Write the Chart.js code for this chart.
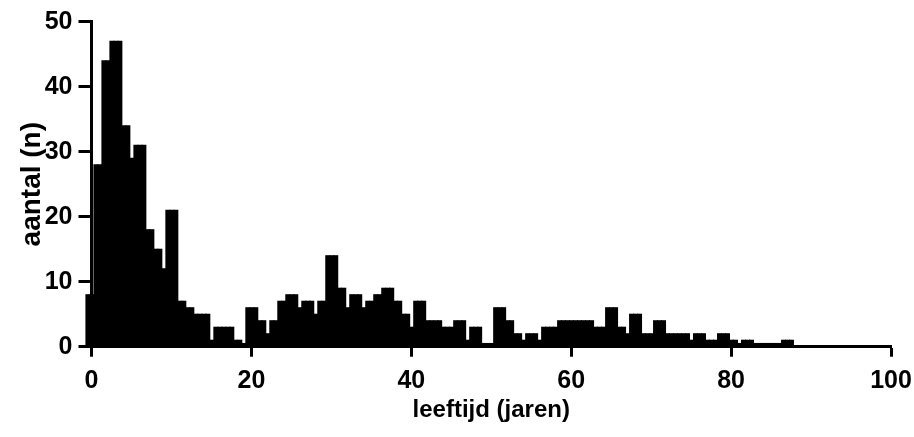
<!DOCTYPE html>
<html>
<head>
<meta charset="utf-8">
<script src="https://cdn.jsdelivr.net/npm/chart.js@4.4.1/dist/chart.umd.min.js"></script>
<style>
  html, body { margin: 0; padding: 0; background: #fff; }
  #wrap { width: 914px; height: 437px; }
</style>
</head>
<body>
<div id="wrap"><canvas id="chart" width="914" height="437"></canvas></div>
<script>
// histogram in halfjaar-bins, eerste bin begint bij -0.7 jaar
const binStart = -0.7
const binWidth = 0.5
const counts = [
    8, 8, 28, 28, 44, 44, 47, 47, 47, 34,
    34, 29, 31, 31, 31, 18, 18, 15, 15, 12,
    21, 21, 21, 7, 7, 6, 6, 5, 5, 5,
    5, 1, 3, 3, 3, 3, 3, 1, 1, 0.5,
    6, 6, 6, 4, 4, 2, 4, 4, 7, 7,
    8, 8, 8, 6, 7, 7, 7, 5, 7, 7,
    14, 14, 14, 9, 9, 6, 8, 8, 8, 6,
    7, 7, 8, 8, 9, 9, 9, 7, 7, 5,
    5, 3, 7, 7, 7, 4, 4, 4, 4, 3,
    3, 3, 4, 4, 4, 1, 3, 3, 3, 0.5,
    0.5, 0.5, 6, 6, 6, 4, 4, 2, 2, 1,
    2, 2, 2, 1, 3, 3, 3, 3, 4, 4,
    4, 4, 4, 4, 4, 4, 4, 3, 3, 3,
    6, 6, 6, 3, 3, 2, 5, 5, 5, 2,
    2, 2, 4, 4, 4, 2, 2, 2, 2, 2,
    2, 1, 2, 2, 2, 1, 1, 1, 2, 2,
    2, 1, 1, 0.5, 1, 1, 1, 0.5, 0.5, 0.5,
    0.5, 0.5, 0.5, 0.5, 1, 1, 1
]
const xTicks = [0, 20, 40, 60, 80, 100]
const yTicks = [0, 10, 20, 30, 40, 50]
const xTitle = 'leeftijd (jaren)'
const yTitle = 'aantal (n)'

const points = counts.map((n, i) => ({ x: binStart + binWidth * (i + 0.5), y: n }))

const family = "'Liberation Sans', Arial, sans-serif"
const tickFont = { family: family, size: 25, weight: 'bold' }
const xTitleFont = { family: family, size: 24, weight: 'bold' }
const yTitleFont = { family: family, size: 28, weight: 'bold' }

const ctx = document.getElementById('chart').getContext('2d')
new Chart(ctx, {
    type: 'bar',
    data: {
        datasets: [{
            data: points,
            backgroundColor: '#000',
            borderWidth: 0,
            barPercentage: 1,
            categoryPercentage: 1,
            inflateAmount: 0.5,
            clip: false
        }]
    },
    options: {
        responsive: false,
        animation: false,
        devicePixelRatio: 1,
        layout: { padding: { top: 21.7, right: 23, left: 0, bottom: 0 } },
        plugins: { legend: { display: false }, tooltip: { enabled: false } },
        scales: {
            x: {
                type: 'linear',
                min: 0,
                max: 100,
                offset: false,
                afterBuildTicks: (s) => { s.ticks = xTicks.map(v => ({ value: v })) },
                afterFit: (s) => {
                    s.height = 90.3
                    s.paddingLeft = 0
                    s.paddingRight = 0
                },
                grid: { drawOnChartArea: false, tickLength: 10, tickWidth: 3, tickColor: '#000', offset: false },
                border: { display: true, width: 3, color: '#000' },
                ticks: { color: '#000', font: tickFont, padding: 9, maxRotation: 0, autoSkip: false },
                title: { display: true, text: xTitle, color: '#000', font: xTitleFont, padding: { top: 0, bottom: 12.6 } }
            },
            y: {
                min: 0,
                max: 50,
                afterBuildTicks: (s) => { s.ticks = yTicks.map(v => ({ value: v })) },
                afterFit: (s) => { s.width = 91.5 },
                grid: { drawOnChartArea: false, tickLength: 13, tickWidth: 3, tickColor: '#000' },
                border: { display: true, width: 3, color: '#000' },
                ticks: { color: '#000', font: tickFont, padding: 6 },
                title: { display: true, text: yTitle, color: '#000', font: yTitleFont, padding: { top: 15.2, bottom: 0 } }
            }
        }
    }
})
</script>
</body>
</html>
